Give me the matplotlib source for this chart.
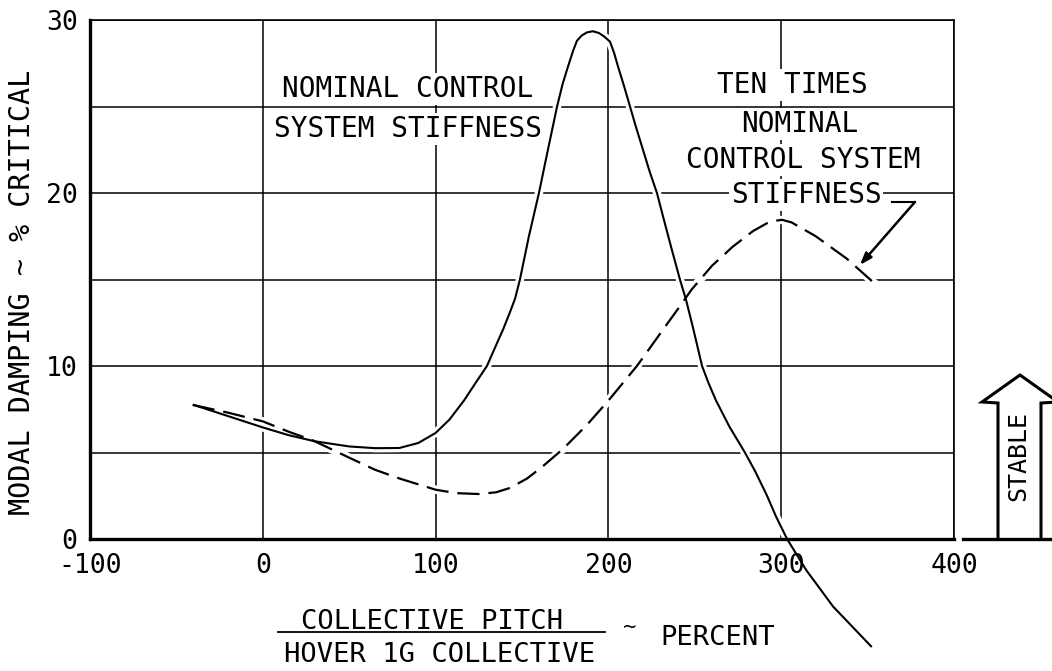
import matplotlib
matplotlib.use("Agg")
import matplotlib.pyplot as plt
from matplotlib.lines import Line2D
from matplotlib.patches import Polygon

# ---- data -------------------------------------------------------------
# Nominal control system stiffness (solid)
nominal_x = [-40, -20, 0, 15, 30, 50, 65, 79, 90, 100, 108, 116.4, 123,
             129.7, 135, 139, 143, 146, 148.8, 154, 159.8, 165, 170.3, 173.5,
             176.6, 179.5, 181.8, 184.5, 187.5, 191, 194.5, 197.5, 200.9,
             203.3, 205.6, 209, 212.5, 216, 220, 224, 228.1, 232, 236.5,
             241.4, 245, 249, 254.2, 258, 262.3, 270, 279, 285, 291.8, 297,
             303.4, 314.5, 330, 352]
nominal_y = [7.75, 7.1, 6.45, 6.0, 5.65, 5.35, 5.25, 5.26, 5.55, 6.13, 6.9,
             8.0, 9.0, 10.0, 11.2, 12.1, 13.1, 13.9, 15.0, 17.5, 20.0, 22.5,
             25.0, 26.3, 27.3, 28.2, 28.8, 29.1, 29.28, 29.35, 29.25, 29.05,
             28.75, 28.1, 27.3, 26.2, 25.0, 23.8, 22.5, 21.2, 20.0, 18.5, 16.8,
             15.0, 13.8, 12.2, 10.0, 9.0, 8.0, 6.5, 5.0, 3.9, 2.5, 1.3, 0.0,
             -1.8, -3.9, -6.2]

# Ten times nominal control system stiffness (dashed)
stiff_x = [-40.5, -20, 0, 15, 29, 50, 65, 79, 100, 112, 125, 135, 143, 153,
           162, 173.7, 187.6, 200, 216.5, 231.6, 241, 248, 260, 272, 283.7,
           293.5, 300.5, 306, 320, 338, 352.6]
stiff_y = [7.75, 7.3, 6.8, 6.2, 5.7, 4.7, 4.0, 3.5, 2.85, 2.65, 2.6, 2.7, 2.95,
           3.5, 4.2, 5.2, 6.6, 8.0, 10.0, 12.1, 13.4, 14.4, 15.8, 16.9, 17.8,
           18.35, 18.45, 18.3, 17.5, 16.2, 14.9]

x_ticks = [-100, 0, 100, 200, 300, 400]
x_tick_labels = ["-100", "0", "100", "200", "300", "400"]
y_grid = [0, 5, 10, 15, 20, 25, 30]
y_tick_labels = ["0", "", "10", "", "20", "", "30"]

MONO = "DejaVu Sans Mono"
W, H = 1052, 671

fig = plt.figure(figsize=(W / 100, H / 100), dpi=100)
ax = fig.add_axes([90 / W, 1 - 539 / H, 864 / W, 519 / H])


def fx(px):
    return px / W


def fy(py):
    return 1 - py / H


ax.set_xlim(-100, 400)
ax.set_ylim(0, 30)
ax.set_xticks(x_ticks)
ax.set_xticklabels(x_tick_labels)
ax.set_yticks(y_grid)
ax.set_yticklabels(y_tick_labels)
ax.tick_params(length=0, labelsize=19)
ax.tick_params(axis="x", pad=10)
ax.tick_params(axis="y", pad=9)
for lab in ax.get_xticklabels() + ax.get_yticklabels():
    lab.set_family(MONO)

ax.set_axisbelow(True)
ax.grid(True, color="black", linewidth=1.1)
for side, lw in (("left", 2.4), ("bottom", 2.4), ("top", 1.2), ("right", 1.2)):
    ax.spines[side].set_linewidth(lw)
    ax.spines[side].set_color("black")

# white halos so the grid breaks where the curves cross it
ax.plot(nominal_x, nominal_y, color="white", lw=6, zorder=1)
ax.plot(stiff_x, stiff_y, color="white", lw=6, zorder=1)

ax.plot(stiff_x, stiff_y, color="black", lw=1.6, dashes=(10, 4),
        solid_capstyle="butt", solid_joinstyle="round", zorder=3)
ax.plot(nominal_x, nominal_y, color="black", lw=1.5, zorder=3, clip_on=False,
        solid_joinstyle="round")

# curve annotations
box = dict(facecolor="white", edgecolor="none", pad=1.5)
txt_kw = dict(family=MONO, fontsize=20, ha="center", va="baseline",
              bbox=box, zorder=4)
ax.text(84, 25.55, "NOMINAL CONTROL", **txt_kw)
ax.text(84, 23.24, "SYSTEM STIFFNESS", **txt_kw)
ax.text(306.3, 25.78, "TEN TIMES", **txt_kw)
ax.text(310.9, 23.53, "NOMINAL", **txt_kw)
ax.text(312.6, 21.45, "CONTROL SYSTEM", **txt_kw)
ax.text(314.4, 19.42, "STIFFNESS", **txt_kw)

# leader from the right-hand label to the dashed curve
ax.plot([364.1, 377.4], [19.48, 19.48], color="black", lw=1.5, zorder=5)
ax.annotate("", xy=(345.6, 15.84), xytext=(377.4, 19.48),
            arrowprops=dict(arrowstyle="-|>,head_length=0.7,head_width=0.25",
                            color="black", lw=1.8, shrinkA=0, shrinkB=0),
            zorder=5)

# axis titles
fig.text(fx(22), fy(292), "MODAL DAMPING ~ % CRITICAL", family=MONO,
         fontsize=20.5, rotation=90, ha="center", va="center")
fig.text(fx(432), fy(622), "COLLECTIVE PITCH", family=MONO, fontsize=19.5,
         ha="center", va="center")
fig.add_artist(Line2D([fx(278), fx(605)], [fy(632), fy(632)],
                      color="black", lw=1.3))
fig.text(fx(440), fy(655), "HOVER 1G COLLECTIVE", family=MONO, fontsize=19.5,
         ha="center", va="center")
fig.text(fx(630), fy(627), "~", family=MONO, fontsize=16,
         ha="center", va="center")
fig.text(fx(718), fy(638), "PERCENT", family=MONO, fontsize=19.5,
         ha="center", va="center")

# "STABLE" direction arrow at the right
arrow_px = [(998, 539), (998, 403), (982, 402), (1020, 375), (1058, 402),
            (1041, 403), (1041, 539)]
fig.add_artist(Polygon([(fx(a), fy(b)) for a, b in arrow_px], closed=False,
                       facecolor="white", edgecolor="black", lw=2.2,
                       joinstyle="miter"))
fig.add_artist(Line2D([fx(963), fx(1052)], [fy(539), fy(539)],
                      color="black", lw=2.4))
fig.text(fx(1018), fy(456), "STABLE", family=MONO, fontsize=18,
         rotation=90, ha="center", va="center")

fig.savefig("out.png", dpi=100)
